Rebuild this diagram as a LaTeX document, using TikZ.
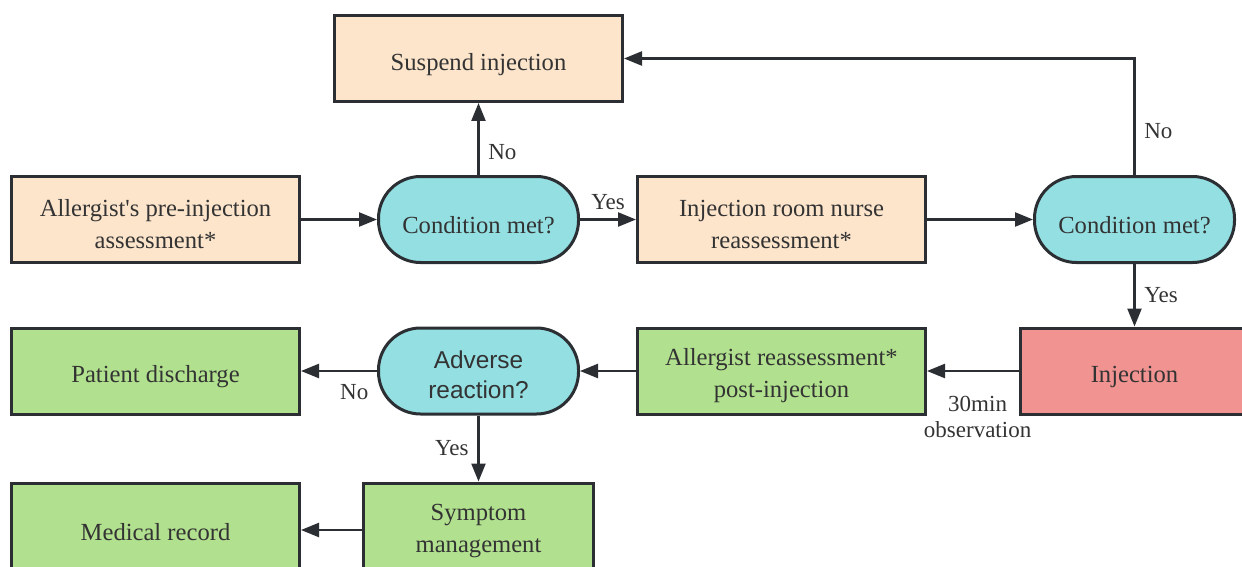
\documentclass[tikz,border=0pt]{standalone}
\usepackage{fontspec}
\setmainfont{LiberationSerif}[Extension=.ttf, UprightFont=*-Regular, BoldFont=*-Bold]
\newfontfamily\sanslabel{Liberation Sans}
\usetikzlibrary{arrows.meta}

\definecolor{peach}{HTML}{FDE5CC}
\definecolor{cyanfill}{HTML}{93DFE2}
\definecolor{greenfill}{HTML}{B1E18E}
\definecolor{redfill}{HTML}{F09391}
\definecolor{edge}{HTML}{2B2F33}
\definecolor{ink}{HTML}{333333}

\tikzset{
  box/.style={draw=edge, line width=1.5pt, minimum width=144pt, minimum height=43pt,
    align=center, text=ink, font=\fontsize{12.3}{16}\selectfont,
    execute at begin node={\rule{0pt}{14.5pt}}},
  twoline/.style={execute at begin node={}, text height=29.5pt},
  decide/.style={box, minimum width=100pt, rounded corners=21pt},
  flow/.style={draw=edge, line width=1.2pt, -{Triangle[length=9pt,width=7pt]}},
  tag/.style={text=ink, font=\fontsize{11.5}{13}\selectfont, align=center}
}

\begin{document}
\begin{tikzpicture}[x=0.5pt,y=-0.5pt]
\useasboundingbox (0,0) rectangle (1242,567);

% top row
\node[box, fill=peach] (suspend) at (478.5,58.5) {Suspend injection};
\node[box, twoline, fill=peach] (pre) at (155.5,219.5) {Allergist\textquotesingle s pre-injection\\assessment*};
\node[decide, fill=cyanfill] (cond1) at (478.5,219.5) {Condition met?};
\node[box, twoline, fill=peach] (nurse) at (781.5,219.5) {Injection room nurse\\reassessment*};
\node[decide, fill=cyanfill] (cond2) at (1134.5,219.5) {Condition met?};

% middle row
\node[box, fill=redfill, minimum width=114pt] (inject) at (1134.5,371) {Injection};
\node[box, twoline, fill=greenfill] (post) at (781.5,371) {Allergist reassessment*\\post-injection};
\node[decide, twoline, text height=28pt, fill=cyanfill, font=\sanslabel\fontsize{12.2}{15}\selectfont] (adverse) at (478.5,371) {Adverse\\reaction?};
\node[box, fill=greenfill] (discharge) at (155.5,371) {Patient discharge};

% bottom row
\node[box, twoline, fill=greenfill, minimum width=115pt] (symptom) at (478.5,526) {Symptom\\management};
\node[box, fill=greenfill] (record) at (155.5,526) {Medical record};

\coordinate (turn) at (cond2.north |- suspend.east);

\draw[flow] (pre) -- (cond1);
\draw[flow] (cond1) -- node[tag, right=1pt, pos=0.32] {No} (suspend);
\draw[flow] (cond1) -- node[tag, above=1pt] {Yes} (nurse);
\draw[flow] (nurse) -- (cond2);
\draw[flow] (cond2.north) -- node[tag, right=1pt, pos=0.38] {No} (turn) -- (suspend.east);
\draw[flow] (cond2) -- node[tag, right=1pt] {Yes} (inject);
\draw[flow] (inject) -- node[tag, below=8.5pt, pos=0.45] {30min\\observation} (post);
\draw[flow] (post) -- (adverse);
\draw[flow] (adverse) -- node[tag, below=3pt, pos=0.3] {No} (discharge);
\draw[flow] (adverse) -- node[tag, left=1pt] {Yes} (symptom);
\draw[flow] ([yshift=-2pt]symptom.west |- record.east) -- ([yshift=-2pt]record.east);
\end{tikzpicture}
\end{document}
